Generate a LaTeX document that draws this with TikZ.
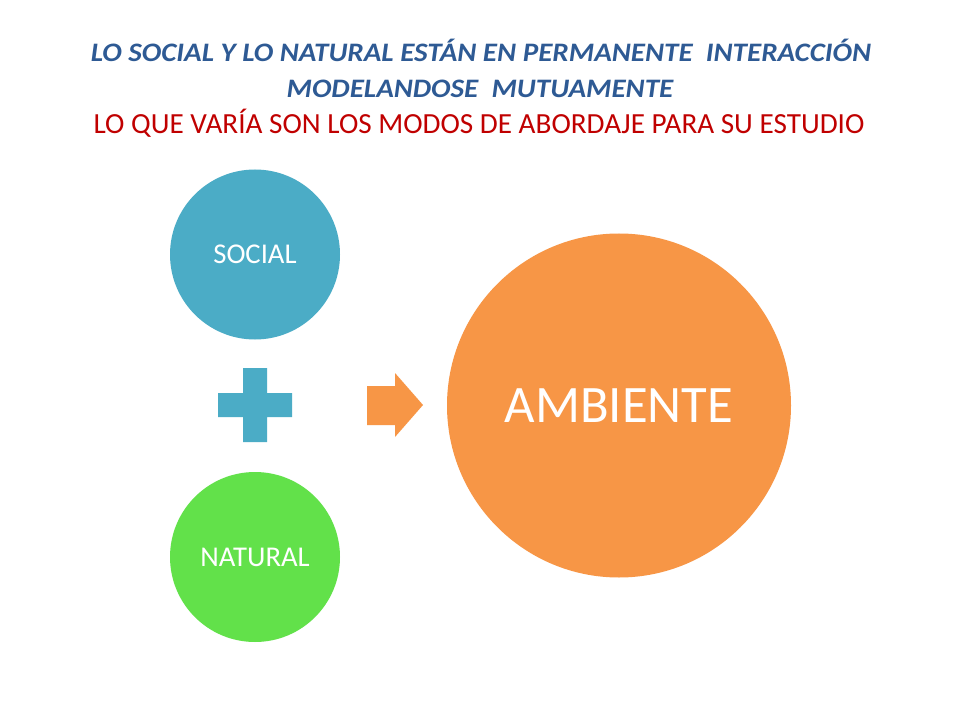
\documentclass[tikz,border=0pt]{standalone}
\usepackage{fontspec}
\setmainfont{Carlito}
\definecolor{titleblue}{HTML}{2E5A94}
\definecolor{titlered}{HTML}{C00000}
\definecolor{socialblue}{HTML}{4BACC6}
\definecolor{naturalgreen}{HTML}{62E14A}
\definecolor{ambienteorange}{HTML}{F79646}
\tikzset{
  titleone/.style={anchor=base, inner sep=0pt, text=titleblue, font=\fontsize{20pt}{24pt}\selectfont\bfseries\itshape},
  titlethree/.style={anchor=base, inner sep=0pt, text=titlered, font=\fontsize{21.9pt}{26pt}\selectfont},
  smallcircle/.style={circle, minimum size=127.5pt, inner sep=0pt, text=white, font=\fontsize{21.5pt}{26pt}\selectfont},
  bigcircle/.style={circle, minimum size=258pt, inner sep=0pt, fill=ambienteorange, text=white, font=\fontsize{39.5pt}{46pt}\selectfont},
}
\begin{document}
\begin{tikzpicture}[x=0.75pt,y=-0.75pt]
\useasboundingbox (0,0) rectangle (960,720);
\fill[white] (0,0) rectangle (960,720);
\node[titleone] (t1) at (481,62) {\scalebox{1.09}[1]{LO SOCIAL Y LO NATURAL ESTÁN EN PERMANENTE\ \ INTERACCIÓN}};
\node[titleone] (t2) at (480,98) {\scalebox{1.09}[1]{MODELANDOSE\ \ MUTUAMENTE}};
\node[titlethree] (t3) at (479,134) {LO QUE VARÍA SON LOS MODOS DE ABORDAJE PARA SU ESTUDIO};
\node[smallcircle, fill=socialblue] (social) at (255,254.5) {SOCIAL};
\node[smallcircle, fill=naturalgreen] (natural) at (255,557) {NATURAL};
\node[bigcircle] (ambiente) at (619,405.5) {AMBIENTE};
% plus sign
\fill[socialblue] (243,368) -- (267,368) -- (267,393) -- (292,393) -- (292,417) -- (267,417) -- (267,442) -- (243,442) -- (243,417) -- (218,417) -- (218,393) -- (243,393) -- cycle;
% block arrow
\fill[ambienteorange] (367,386) -- (395,386) -- (395,373) -- (423,405) -- (395,437) -- (395,425) -- (367,425) -- cycle;
\end{tikzpicture}
\end{document}
